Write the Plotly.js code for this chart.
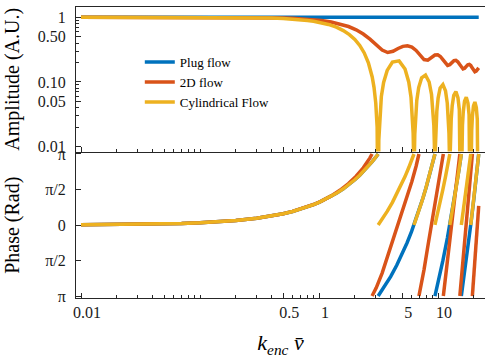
<!DOCTYPE html>
<html>
<head>
<meta charset="utf-8">
<script src="https://cdn.plot.ly/plotly-3.0.1.min.js"></script>
<style>html,body{margin:0;padding:0;background:#fff;}#chart{width:485px;height:360px;}</style>
</head>
<body>
<div id="chart"></div>
<script>
// ---------- data ----------
const seriesNames = ['Plug flow', '2D flow', 'Cylindrical Flow'];

// Plug flow
const plugAmpK = [0.01, 21.991];
const plugAmp = [1, 1];
const plugPhaseK = [0.01,0.02,0.03,0.05,0.07,0.1,0.15,0.2,0.3,0.4,0.5,0.6,0.7,0.8,0.9,1.0,1.2,1.4,1.6,1.8,2.0,2.2,2.4,2.6,2.8,3.0,3.1416,
  null,
  3.1416,3.5,4,4.5,5,5.5,6,6.5,7,7.5,8,8.5,9,9.4248,
  null,
  9.4248,10,11,12,13,14,15,15.708,
  null,
  15.708,17,18,19,20,21,21.991];
const plugPhase = [0.01,0.02,0.03,0.05,0.07,0.1,0.15,0.2,0.3,0.4,0.5,0.6,0.7,0.8,0.9,1.0,1.2,1.4,1.6,1.8,2.0,2.2,2.4,2.6,2.8,3.0,3.1416,
  null,
  -3.1416,-2.7832,-2.2832,-1.7832,-1.2832,-0.7832,-0.2832,0.2168,0.7168,1.2168,1.7168,2.2168,2.7168,3.1416,
  null,
  -3.1416,-2.5664,-1.5664,-0.5664,0.4336,1.4336,2.4336,3.1416,
  null,
  -3.1416,-1.8496,-0.8496,0.1504,1.1504,2.1504,3.1416];

// 2D flow
const flow2dAmpK = [0.01,0.02,0.03,0.05,0.07,0.1,0.15,0.2,0.3,0.4,0.5,0.6,0.7,0.8,0.9,
  1.0472,1.2671,1.508,1.7698,2.0525,2.3562,2.6808,3.0264,3.393,3.7804,4.1888,4.6181,5.0684,5.5397,6.0319,6.545,7.0791,7.634,8.2101,8.807,9.4248,
  9.9484,10.472,10.9956,11.519,12.043,12.566,13.09,13.614,14.137,14.661,15.184,15.708,16.232,16.755,17.279,17.802,18.326,18.85,19.373,19.897,20.42,20.944,21.468,21.991];
const flow2dAmp = [0.99999,0.99996,0.99991,0.99975,0.99951,0.999,0.99775,0.99601,0.99103,0.98411,0.97527,0.96456,0.95203,0.93776,0.92182,
  0.8946,0.8485,0.7908,0.7211,0.6405,0.5517,0.46,0.375,0.3116,0.2858,0.2984,0.3294,0.3558,0.3634,0.3466,0.3079,0.2591,0.222,0.2178,0.2401,0.261,
  0.2629,0.2477,0.2212,0.1945,0.1808,0.1857,0.201,0.2138,0.216,0.2059,0.1875,0.1686,0.1591,0.163,0.1748,0.185,0.1872,0.1799,0.1656,0.151,0.1438,0.1471,0.1568,0.1653];
const flow2dPhaseK = [0.01,0.02,0.03,0.05,0.07,0.1,0.15,0.2,0.3,0.4,0.5,0.6,0.7,0.8,0.9,1.0472,1.2671,1.508,1.7698,2.0525,2.3562,2.6808,2.792,
  null,
  2.792,3.0264,3.393,3.7804,4.1888,4.6181,5.0684,5.5397,6.0319,6.545,6.916,
  null,
  6.916,7.0791,7.634,8.2101,8.807,9.4248,9.9484,10.472,10.9956,11.088,
  null,
  11.088,11.519,12.043,12.566,13.09,13.614,14.137,14.661,15.184,15.264,
  null,
  15.264,15.708,16.232,16.755,17.279,17.802,18.326,18.85,19.373,19.443,
  null,
  19.443,19.897,20.42,20.944,21.468,21.991];
const flow2dPhase = [0.01,0.02,0.03,0.05,0.07,0.1,0.15,0.2001,0.3003,0.4006,0.5013,0.6021,0.7034,0.8051,0.9073,1.0589,1.2886,1.5452,1.8332,2.1586,2.5319,2.9701,3.1416,
  null,
  -3.1416,-2.7817,-2.128,-1.3705,-0.6127,0.0722,0.6981,1.3032,1.9242,2.5995,3.1416,
  null,
  -3.1416,-2.9034,-1.9724,-0.9488,0.0142,0.8846,1.575,2.2683,3.004,3.1416,
  null,
  -3.1416,-2.4644,-1.5752,-0.6873,0.1272,0.8682,1.5736,2.2798,3.024,3.1416,
  null,
  -3.1416,-2.4471,-1.5733,-0.7007,0.1106,0.8583,1.5724,2.2879,3.0376,3.1416,
  null,
  -3.1416,-2.4363,-1.5729,-0.7103,0.0991,0.8513];

// Cylindrical flow
const cylAmpK = [0.01,0.02,0.03,0.05,0.07,0.1,0.15,0.2,0.3,0.4,0.5,0.6,0.7,0.8,0.9,1.0,1.2,1.4,1.6,1.8,2.0,2.2,2.4,2.6,2.8,2.9,3.0,3.08,3.12,3.1406,
  3.1426,3.1816,3.2416,3.3416,3.4916,3.7416,4.1416,4.7124,5.2832,5.6832,5.9332,6.0832,6.1832,6.2432,6.2822,
  6.2842,6.3232,6.3832,6.4832,6.6332,6.8832,7.2832,7.854,8.4248,8.8248,9.0748,9.2248,9.3248,9.3848,9.4238,
  9.4258,9.4648,9.5248,9.6248,9.7748,10.0248,10.4248,10.9956,11.5664,11.9664,12.2164,12.3664,12.4664,12.5264,12.5654,
  12.5674,12.6064,12.6664,12.7664,12.9164,13.1664,13.5664,14.1372,14.708,15.108,15.358,15.508,15.608,15.668,15.707,
  15.709,15.748,15.808,15.908,16.058,16.308,16.708,17.2788,17.8496,18.2496,18.4996,18.6496,18.7496,18.8096,18.8486,
  18.8506,18.8896,18.9496,19.0496,19.1996,19.4496,19.8496,20.4204,20.9912,21.3912,21.6412,21.7912,21.8912,21.9512,21.9902];
const cylAmp = [0.99998,0.99993,0.99985,0.99958,0.99918,0.99833,0.99625,0.99335,0.98507,0.97355,0.95885,0.94107,0.92031,0.8967,0.87036,0.84147,0.7767,0.70389,0.62473,0.54103,0.45465,0.3675,0.28144,0.19827,0.11964,0.0825,0.04704,0.01999,0.006923,0.00032,
  0.000318,0.012569,0.030797,0.059454,0.098207,0.150909,0.203175,0.212206,0.159272,0.099353,0.057794,0.032659,0.016145,0.006405,0.000159,
  0.000159,0.006324,0.01564,0.030644,0.051694,0.082032,0.115536,0.127324,0.09988,0.063983,0.037785,0.021537,0.010706,0.004261,0.000106,
  0.000106,0.004225,0.010481,0.020641,0.03508,0.056324,0.080718,0.090946,0.072751,0.047185,0.028069,0.016065,0.008008,0.003192,0.0000796,
  0.0000796,0.003172,0.007882,0.015562,0.026548,0.042885,0.062026,0.070736,0.057212,0.037374,0.022327,0.012811,0.006396,0.002552,0.0000637,
  0.0000637,0.002539,0.006315,0.012489,0.021354,0.034623,0.050363,0.057874,0.047142,0.03094,0.018536,0.010653,0.005324,0.002126,0.0000531,
  0.000053,0.002117,0.005268,0.010429,0.01786,0.029031,0.042392,0.048971,0.040086,0.026396,0.015845,0.009117,0.00456,0.001822,0.0000455];
const cylPhaseK = [0.01,0.02,0.03,0.05,0.07,0.1,0.15,0.2,0.3,0.4,0.5,0.6,0.7,0.8,0.9,1.0,1.2,1.4,1.6,1.8,2.0,2.2,2.4,2.6,2.8,2.9,3.0,3.08,3.12,3.1406,
  null,
  3.1426,3.1816,3.2416,3.3416,3.4916,3.7416,4.1416,4.7124,5.2832,5.6832,5.9332,6.0832,6.1832,6.2432,6.2822,
  null,
  6.2842,6.3232,6.3832,6.4832,6.6332,6.8832,7.2832,7.854,8.4248,8.8248,9.0748,9.2248,9.3248,9.3848,9.4238,
  null,
  9.4258,9.4648,9.5248,9.6248,9.7748,10.0248,10.4248,10.9956,11.5664,11.9664,12.2164,12.3664,12.4664,12.5264,12.5654,
  null,
  12.5674,12.6064,12.6664,12.7664,12.9164,13.1664,13.5664,14.1372,14.708,15.108,15.358,15.508,15.608,15.668,15.707,
  null,
  15.709,15.748,15.808,15.908,16.058,16.308,16.708,17.2788,17.8496,18.2496,18.4996,18.6496,18.7496,18.8096,18.8486,
  null,
  18.8506,18.8896,18.9496,19.0496,19.1996,19.4496,19.8496,20.4204,20.9912,21.3912,21.6412,21.7912,21.8912,21.9512,21.9902];
const cylPhase = [0.01,0.02,0.03,0.05,0.07,0.1,0.15,0.2,0.3,0.4,0.5,0.6,0.7,0.8,0.9,1.0,1.2,1.4,1.6,1.8,2.0,2.2,2.4,2.6,2.8,2.9,3.0,3.08,3.12,3.1406,
  null,
  0.001,0.04,0.1,0.2,0.35,0.6,1.0,1.5708,2.1416,2.5416,2.7916,2.9416,3.0416,3.1016,3.1406,
  null,
  0.001,0.04,0.1,0.2,0.35,0.6,1.0,1.5708,2.1416,2.5416,2.7916,2.9416,3.0416,3.1016,3.1406,
  null,
  0.001,0.04,0.1,0.2,0.35,0.6,1.0,1.5708,2.1416,2.5416,2.7916,2.9416,3.0416,3.1016,3.1406,
  null,
  0.001,0.04,0.1,0.2,0.35,0.6,1.0,1.5708,2.1416,2.5416,2.7916,2.9416,3.0416,3.1016,3.1406,
  null,
  0.001,0.04,0.1,0.2,0.35,0.6,1.0,1.5708,2.1416,2.5416,2.7916,2.9416,3.0416,3.1016,3.1406,
  null,
  0.001,0.04,0.1,0.2,0.35,0.6,1.0,1.5708,2.1416,2.5416,2.7916,2.9416,3.0416,3.1016,3.1406];

// ticks
const kTickVals = [0.01, 0.5, 1, 5, 10];
const kTickText = ['0.01', '0.5', '1', '5', '10'];
const kMinorVals = [0.02,0.03,0.04,0.05,0.06,0.07,0.08,0.09,0.1,0.2,0.3,0.4,0.6,0.7,0.8,0.9,2,3,4,6,7,8,9,20];
const ampTickVals = [0.01, 0.05, 0.1, 0.5, 1];
const ampTickText = ['0.01', '0.05', '0.10', '0.50', '1'];
const ampMinorVals = [0.02,0.03,0.04,0.06,0.07,0.08,0.09,0.2,0.3,0.4,0.6,0.7,0.8,0.9];
const phaseTickVals = [-3.14159, -1.5708, 0, 1.5708, 3.14159];
const phaseTickText = ['π', 'π/2', '0', 'π/2', 'π'];

// ---------- chart ----------
const colors = ['#0072BD', '#D95319', '#EDB120'];
const LW = 3.5;
const traces = [
  {x: plugAmpK, y: plugAmp, name: seriesNames[0], legendgroup: 'p', xaxis: 'x', yaxis: 'y', mode: 'lines', line: {color: colors[0], width: LW}},
  {x: flow2dAmpK, y: flow2dAmp, name: seriesNames[1], legendgroup: 'd', xaxis: 'x', yaxis: 'y', mode: 'lines', line: {color: colors[1], width: LW}},
  {x: cylAmpK, y: cylAmp, name: seriesNames[2], legendgroup: 'c', xaxis: 'x', yaxis: 'y', mode: 'lines', line: {color: colors[2], width: LW}},
  {x: plugPhaseK, y: plugPhase, name: seriesNames[0], legendgroup: 'p', showlegend: false, xaxis: 'x2', yaxis: 'y2', mode: 'lines', line: {color: colors[0], width: LW}},
  {x: flow2dPhaseK, y: flow2dPhase, name: seriesNames[1], legendgroup: 'd', showlegend: false, xaxis: 'x2', yaxis: 'y2', mode: 'lines', line: {color: colors[1], width: LW}},
  {x: cylPhaseK, y: cylPhase, name: seriesNames[2], legendgroup: 'c', showlegend: false, xaxis: 'x2', yaxis: 'y2', mode: 'lines', line: {color: colors[2], width: LW}}
];

const axColor = '#262626';
const baseX = {
  type: 'log', range: [-2.042, 1.395], showgrid: false, zeroline: false,
  showline: true, linecolor: axColor, linewidth: 1,
  tickmode: 'array', tickvals: kTickVals, ticktext: kTickText,
  ticks: 'inside', ticklen: 5, tickcolor: axColor, tickwidth: 1,
  minor: {tickmode: 'array', tickvals: kMinorVals, ticks: 'inside', ticklen: 3, tickcolor: axColor, tickwidth: 1, showgrid: false}
};

const layout = {
  width: 485, height: 360,
  margin: {l: 76, r: 0, t: 3, b: 62},
  paper_bgcolor: '#ffffff', plot_bgcolor: '#ffffff',
  font: {family: '"Liberation Serif", "Times New Roman", serif', size: 16, color: '#1a1a1a'},
  showlegend: true,
  legend: {x: 0.156, y: 0.862, xanchor: 'left', yanchor: 'top', bgcolor: 'rgba(0,0,0,0)',
           font: {size: 13, color: '#000'}, itemwidth: 30, tracegroupgap: 0},
  xaxis: Object.assign({}, baseX, {anchor: 'y', domain: [0, 1], showticklabels: false, mirror: true}),
  xaxis2: Object.assign({}, baseX, {anchor: 'y2', domain: [0, 1], matches: 'x', showticklabels: true,
    ticklabelstandoff: 0, ticklabelshift: 6,
    title: {text: '<i>k</i><sub><i>enc</i></sub> <i>v̄</i>', font: {size: 22, color: '#000'}, standoff: 14}, automargin: true}),
  yaxis: {type: 'log', range: [-2.0763, 0.1603], domain: [0.5034, 1], anchor: 'x',
    showgrid: false, zeroline: false, showline: true, linecolor: axColor, linewidth: 1,
    tickmode: 'array', tickvals: ampTickVals, ticktext: ampTickText,
    ticks: 'inside', ticklen: 5, tickcolor: axColor, ticklabelstandoff: 6,
    minor: {tickmode: 'array', tickvals: ampMinorVals, ticks: 'inside', ticklen: 3, tickcolor: axColor, showgrid: false},
    title: {text: 'Amplitude (A.U.)', font: {size: 20, color: '#000'}, standoff: 12}, automargin: true},
  yaxis2: {range: [-3.229, 3.207], domain: [0, 0.5], anchor: 'x2',
    showgrid: false, zeroline: false, showline: true, linecolor: axColor, linewidth: 1,
    tickmode: 'array', tickvals: phaseTickVals, ticktext: phaseTickText,
    ticks: 'inside', ticklen: 5, tickcolor: axColor, ticklabelstandoff: 6,
    title: {text: 'Phase (Rad)', font: {size: 20, color: '#000'}, standoff: 20}, automargin: true}
};

Plotly.newPlot('chart', traces, layout, {staticPlot: true, displayModeBar: false});
</script>
</body>
</html>
